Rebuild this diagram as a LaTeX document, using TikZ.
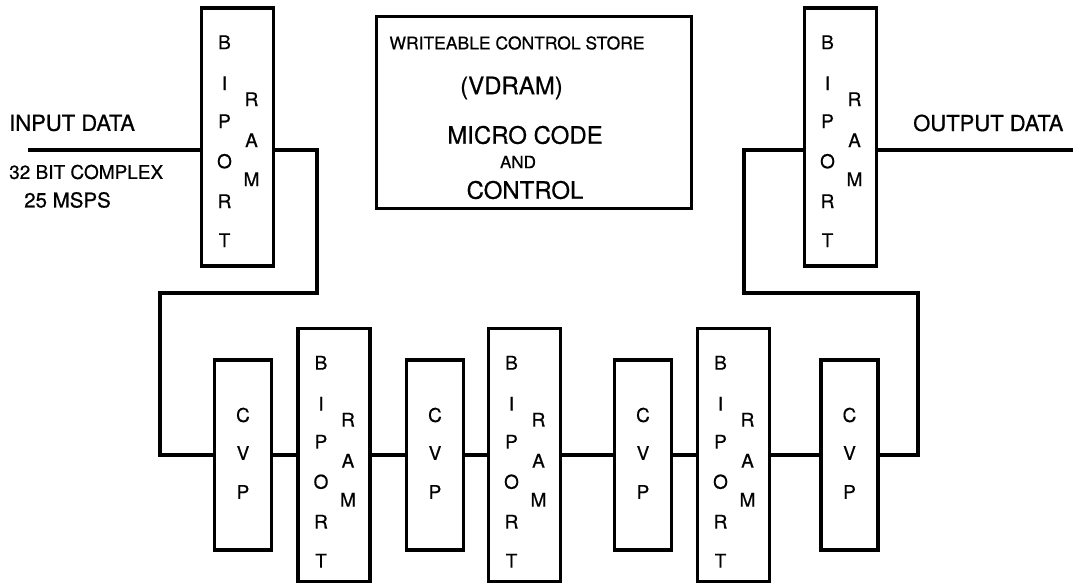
\documentclass[tikz,border=0pt]{standalone}
\usepackage{fontspec}
\setmainfont{TeX Gyre Heros}[FakeBold=0.6]
\usetikzlibrary{calc}
\tikzset{
  wire/.style={line width=3.5pt, line join=miter},
  bp/.style={draw, line width=3.5pt, rectangle, minimum width=72pt, inner sep=0pt},
  cvpbox/.style={draw, line width=3.5pt, rectangle, minimum width=57pt, minimum height=190pt, inner sep=0pt},
  ctlbox/.style={draw, line width=3.5pt, rectangle, minimum width=315pt, minimum height=192pt, inner sep=0pt},
  lt/.style={font=\fontsize{19}{19}\selectfont, inner sep=0pt},
  lbl/.style={inner sep=0pt, anchor=west},
}
\newcommand\biportbox[4]{%
  \node[bp, minimum height=#4] (#1) at (#2,#3) {};
  \path (#1.north) ++(-13,36) node[lt] {B}
        (#1.north) ++(-13,77) node[lt] {I}
        (#1.north) ++(-13,115) node[lt] {P}
        (#1.north) ++(-13,155) node[lt] {O}
        (#1.north) ++(-13,195) node[lt] {R}
        (#1.north) ++(-13,234) node[lt] {T}
        (#1.north) ++(14,93) node[lt] {R}
        (#1.north) ++(14,134) node[lt] {A}
        (#1.north) ++(14,173) node[lt] {M};
}
\newcommand\cvpbox[2]{%
  \node[cvpbox] (#1) at (#2,455) {};
  \path (#1.center) ++(0,-40) node[lt] {C}
        (#1.center) ++(0,-2) node[lt] {V}
        (#1.center) ++(0,37) node[lt] {P};
}
\begin{document}
\begin{tikzpicture}[x=1pt,y=-1pt]
\useasboundingbox (0,0) rectangle (1076,585);
% top boxes
\biportbox{tl}{237.5}{137}{258}
\biportbox{tr}{840.5}{137}{258}
\node[ctlbox] (ctl) at (534,112.5) {};
\node[inner sep=0pt, font=\fontsize{17.5}{18}\selectfont] (wcs) at (517,43) {WRITEABLE CONTROL STORE};
\node[inner sep=0pt, font=\fontsize{24}{24}\selectfont] (vd) at (511.5,88) {(VDRAM)};
\node[inner sep=0pt, font=\fontsize{24}{24}\selectfont] (mc) at (525,135) {MICRO CODE};
\node[inner sep=0pt, font=\fontsize{17}{17}\selectfont] (and) at (518,162) {AND};
\node[inner sep=0pt, font=\fontsize{24}{24}\selectfont] (ct) at (525,190) {CONTROL};
% bottom chain
\cvpbox{c1}{243}
\biportbox{b2}{334}{455}{253}
\cvpbox{c2}{435}
\biportbox{b3}{524.5}{455}{253}
\cvpbox{c3}{643}
\biportbox{b4}{733.5}{455}{253}
\cvpbox{c4}{849.5}
% labels
\node[lbl, font=\fontsize{22}{22}\selectfont] (inl) at (9,123) {INPUT DATA};
\node[lbl, font=\fontsize{19}{19}\selectfont] (bits) at (9,172) {32 BIT COMPLEX};
\node[lbl, font=\fontsize{20.5}{20}\selectfont] (msps) at (24,200) {25 MSPS};
\node[lbl, font=\fontsize{22}{22}\selectfont] (outl) at (913,123) {OUTPUT DATA};
% coordinates
\coordinate (inp) at (28,150);
\coordinate (outp) at (1073,150);
\coordinate (t1) at (317,293);
\coordinate (t2) at (160,293);
\coordinate (r1) at (918,293);
\coordinate (r2) at (744,293);
% wires
\draw[wire] (inp) -- (inp -| tl.west);
\draw[wire] (tl.east |- inp) -| (t1) -- (t2) |- (c1.west);
\draw[wire] (c1.east) -- (b2.west);
\draw[wire] (b2.east) -- (c2.west);
\draw[wire] (c2.east) -- (b3.west);
\draw[wire] (b3.east) -- (c3.west);
\draw[wire] (c3.east) -- (b4.west);
\draw[wire] (b4.east) -- (c4.west);
\draw[wire] (c4.east) -| (r1) -- (r2) |- (tr.west |- outp);
\draw[wire] (tr.east |- outp) -- (outp);
\end{tikzpicture}
\end{document}
